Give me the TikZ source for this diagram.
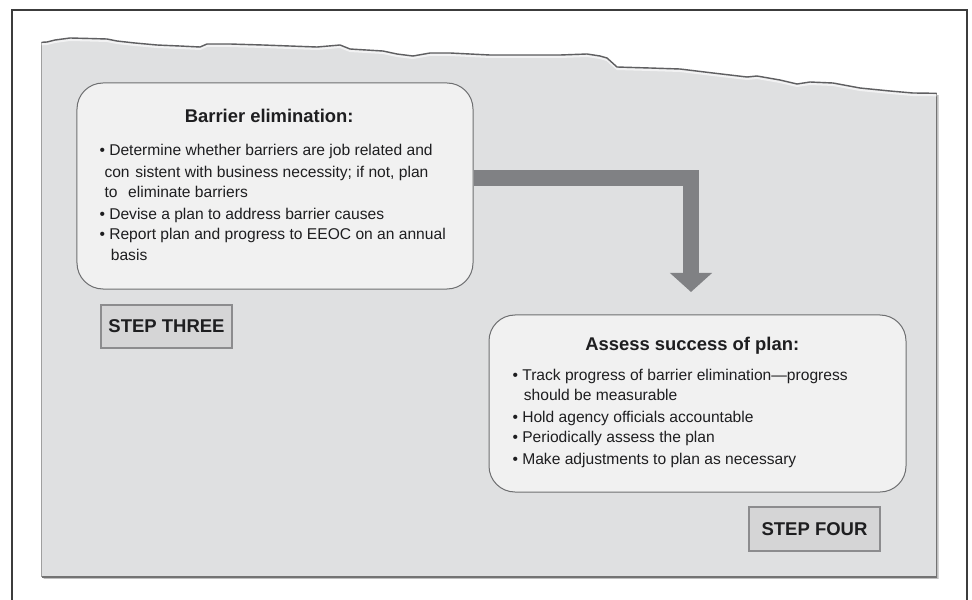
\documentclass[tikz,border=0pt]{standalone}
\usepackage{fontspec}
\setmainfont{Liberation Sans}
\usetikzlibrary{arrows.meta}
\definecolor{paper}{RGB}{223,224,225}
\definecolor{boxfill}{RGB}{241,241,241}
\definecolor{boxline}{RGB}{110,111,113}
\definecolor{stepfill}{RGB}{213,213,214}
\definecolor{stepline}{RGB}{140,140,142}
\definecolor{arrowgray}{RGB}{128,129,132}
\definecolor{txt}{RGB}{30,30,32}
\definecolor{framec}{RGB}{60,60,60}
\definecolor{tear}{RGB}{95,95,97}
\tikzset{
 roundbox/.style={draw=boxline, line width=1bp, fill=boxfill, rounded corners=26bp, inner sep=0pt},
 stepbox/.style={draw=stepline, line width=1.2bp, fill=stepfill, inner sep=0pt, font=\fontsize{18.5bp}{22bp}\selectfont\bfseries, text=txt},
 titletext/.style={anchor=base, inner sep=0pt, font=\fontsize{18.4bp}{22bp}\selectfont\bfseries, text=txt},
 bodytext/.style={anchor=base west, inner sep=0pt, font=\fontsize{15.6bp}{20bp}\selectfont, text=txt},
 bigarrow/.style={draw=arrowgray, line width=16bp, -{Triangle[width=41bp,length=19bp]}},
}
\def\paperpath{(41.7,42.3) -- (47,42) -- (55,40) -- (70,38) -- (90,38.5) -- (107,39) -- (117,41) -- (135,43) -- (157,45) -- (180,46) -- (200,47) -- (207,44) -- (230,44) -- (263,45) -- (290,46) -- (317,47) -- (340,45) -- (350,49) -- (383,51) -- (397,54) -- (413,56) -- (430,53) -- (450,53) -- (490,55) -- (560,55) -- (587,54) -- (600,56) -- (607,58) -- (617,67) -- (650,68) -- (680,69) -- (713,73) -- (747,77) -- (757,76) -- (780,80) -- (797,84) -- (810,82) -- (833,83) -- (860,88) -- (890,91) -- (913,93) -- (936.7,93.3) -- (936.7,577) -- (41.7,577) -- cycle}
\begin{document}
\begin{tikzpicture}[x=1bp,y=-1bp]
\useasboundingbox (0,0) rectangle (972,600);
\fill[white] (0,0) rectangle (972,600);
% outer frame
\draw[framec, line width=1.5bp] (12,600) -- (12,10) -- (967,10) -- (967,600);
% paper
\fill[black, opacity=0.25, xshift=1.8bp, yshift=-1.8bp] \paperpath;
\fill[paper] \paperpath;
\draw[gray!75, line width=0.8bp] (41.7,42.3) -- (41.7,577);
\draw[gray!90!black, line width=1.2bp] (41.7,577) -- (936.7,577) -- (936.7,93.3);
\draw[white, opacity=0.6, line width=2bp, line join=round, yshift=-2bp] (41.7,42.3) -- (47,42) -- (55,40) -- (70,38) -- (90,38.5) -- (107,39) -- (117,41) -- (135,43) -- (157,45) -- (180,46) -- (200,47) -- (207,44) -- (230,44) -- (263,45) -- (290,46) -- (317,47) -- (340,45) -- (350,49) -- (383,51) -- (397,54) -- (413,56) -- (430,53) -- (450,53) -- (490,55) -- (560,55) -- (587,54) -- (600,56) -- (607,58) -- (617,67) -- (650,68) -- (680,69) -- (713,73) -- (747,77) -- (757,76) -- (780,80) -- (797,84) -- (810,82) -- (833,83) -- (860,88) -- (890,91) -- (913,93) -- (936.7,93.3);
\draw[tear, line width=1.4bp, line join=round] (41.7,42.3) -- (47,42) -- (55,40) -- (70,38) -- (90,38.5) -- (107,39) -- (117,41) -- (135,43) -- (157,45) -- (180,46) -- (200,47) -- (207,44) -- (230,44) -- (263,45) -- (290,46) -- (317,47) -- (340,45) -- (350,49) -- (383,51) -- (397,54) -- (413,56) -- (430,53) -- (450,53) -- (490,55) -- (560,55) -- (587,54) -- (600,56) -- (607,58) -- (617,67) -- (650,68) -- (680,69) -- (713,73) -- (747,77) -- (757,76) -- (780,80) -- (797,84) -- (810,82) -- (833,83) -- (860,88) -- (890,91) -- (913,93) -- (936.7,93.3);

% arrow
\node[roundbox, draw=none, fill=none, minimum width=396bp, minimum height=206bp] (b1) at (275,186) {};
\coordinate (aend) at (691,292);
\draw[bigarrow] ([yshift=8bp]b1.east) -| (aend);

% box one
\node[roundbox, minimum width=396bp, minimum height=206bp] (b1box) at (275,186) {};
\node[titletext] (t1) at (269.2,122.3) {Barrier elimination:};
\node[bodytext] (l1a) at (99.3,156) {\textbullet\ Determine whether barriers are job related and};
\node[bodytext] (l1b) at (104.3,177.3) {con\hspace{5.7bp}sistent with business necessity; if not, plan};
\node[bodytext] (l1c) at (104.3,197.7) {to\hspace{10.7bp}eliminate barriers};
\node[bodytext] (l1d) at (99.3,219.3) {\textbullet\ Devise a plan to address barrier causes};
\node[bodytext] (l1e) at (99.3,240) {\textbullet\ Report plan and progress to EEOC on an annual};
\node[bodytext] (l1f) at (110.7,261) {basis};
\node[stepbox, minimum width=131bp, minimum height=43bp] (s3) at (166.5,326.5) {STEP THREE};

% box two
\node[roundbox, minimum width=417bp, minimum height=177bp] (b2) at (697.5,403.5) {};
\node[titletext] (t2) at (692.3,350.7) {Assess success of plan:};
\node[bodytext] (l2a) at (512.3,380) {\textbullet\ Track progress of barrier elimination—progress};
\node[bodytext] (l2b) at (523.7,400.7) {should be measurable};
\node[bodytext] (l2c) at (512.3,422) {\textbullet\ Hold agency officials accountable};
\node[bodytext] (l2d) at (512.3,442.7) {\textbullet\ Periodically assess the plan};
\node[bodytext] (l2e) at (512.3,464.7) {\textbullet\ Make adjustments to plan as necessary};
\node[stepbox, minimum width=131bp, minimum height=44bp] (s4) at (814.5,529) {STEP FOUR};
\end{tikzpicture}
\end{document}
